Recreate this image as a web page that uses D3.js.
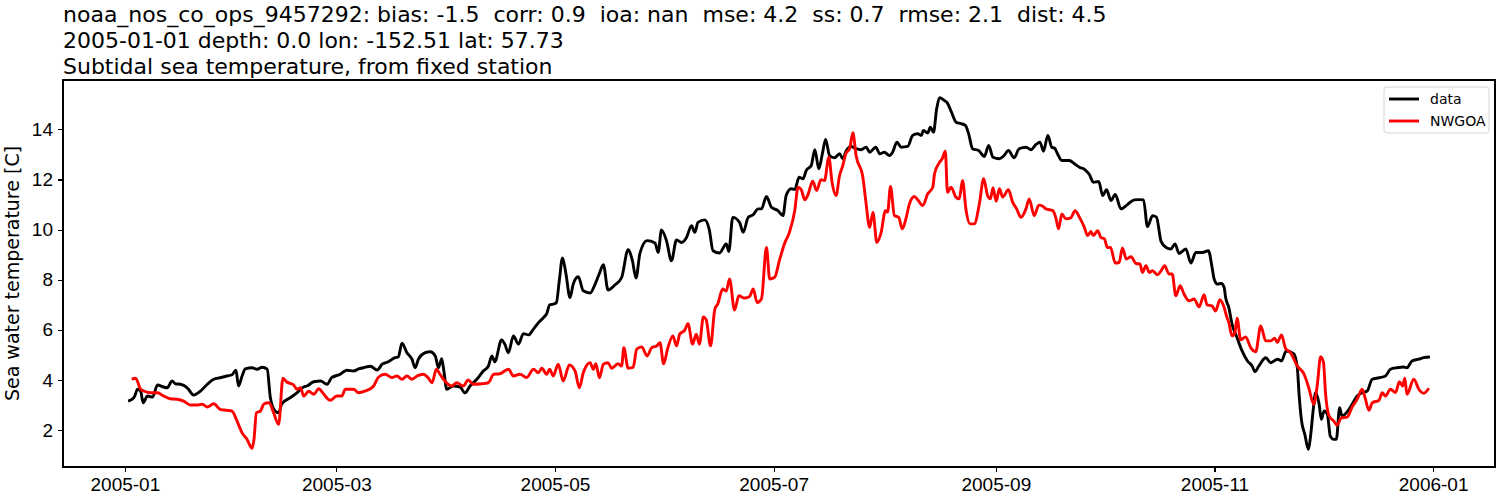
<!DOCTYPE html>
<meta charset="utf-8">
<style>
body { margin: 0; background: #fff; }
svg { font-family: "DejaVu Sans", sans-serif; }
.title { font-size: 22px; fill: #000; white-space: pre; }
.axis text { font-size: 19px; fill: #000; }
.axis path, .axis line { stroke: #000; stroke-width: 1.1px; shape-rendering: crispEdges; }
.line { fill: none; stroke-width: 2.9px; stroke-linejoin: round; }
.legend text { font-size: 14px; }
</style>
<body>
<script src="https://d3js.org/d3.v7.min.js"></script>
<script>
// observed (data) and model (NWGOA) sea temperature, day offsets from 2005-01-01
var obsDays = [0.9,2.5,3.6,4.4,5.1,6.3,7.7,9.1,10.8,11.8,13.2,14.1,15.5,17.4,19.2,21.1,23.0,24.8,26.6,28.5,29.9,31.0,31.7,32.7,33.6,35.5,36.9,38.3,39.7,40.6,41.9,42.9,43.8,46.1,48.0,49.9,50.8,52.7,54.6,56.4,57.7,60.1,61.9,63.8,65.2,66.6,68.5,70.4,71.8,73.5,75.4,76.3,77.3,78.7,80.1,81.0,81.9,83.8,85.2,86.6,87.5,88.4,89.0,89.8,91.6,93.5,94.9,96.3,98.2,100.0,101.4,102.4,103.2,105.1,106.0,107.0,108.4,109.8,111.2,112.6,114.0,115.4,116.8,117.7,118.5,119.5,120.4,121.2,122.1,123.0,124.2,125.1,126.5,127.9,129.8,131.2,132.4,133.5,134.8,136.7,138.6,140.4,141.6,142.6,143.7,145.7,147.9,148.8,149.7,151.1,152.5,153.9,155.3,156.7,158.1,159.0,159.9,161.8,163.0,164.1,165.9,167.8,168.5,169.6,171.5,172.5,173.9,175.3,176.7,177.6,179.0,180.4,182.2,183.6,184.5,185.9,186.9,188.1,189.2,190.1,191.5,192.5,193.6,194.6,195.5,196.6,198.0,199.4,200.3,201.2,202.6,204.0,205.4,206.8,207.8,209.5,210.6,211.9,213.3,214.2,215.4,216.6,218.4,219.8,221.2,222.2,222.8,224.0,224.7,225.6,226.5,227.3,228.6,229.5,230.5,231.9,233.3,234.5,235.4,236.5,238.2,239.8,241.0,242.2,244.0,245.3,246.5,248.1,249.5,251.4,252.8,254.2,255.3,256.3,257.5,258.6,259.4,260.2,261.4,263.5,264.9,266.3,267.9,269.1,270.2,271.7,272.8,273.9,275.1,276.3,277.9,279.7,281.6,283.0,284.2,285.3,286.7,287.8,289.1,290.5,291.8,293.0,294.1,296.0,297.4,298.8,300.6,302.3,303.4,303.9,304.8,305.9,306.7,307.1,308.0,308.9,310.3,311.7,313.2,314.5,315.3,316.4,318.3,319.7,321.6,322.7,324.0,326.1,327.1,327.6,328.3,329.2,330.2,330.8,331.6,332.2,333.2,333.8,334.6,335.5,336.3,337.3,338.0,338.9,339.6,341.0,342.4,343.8,345.2,346.6,348.0,349.9,351.7,353.1,354.9,356.8,357.7,359.1,361.0,362.4,364.1];
var obsTemp = [3.16,3.29,3.63,3.56,3.09,3.36,3.32,3.8,3.72,3.69,3.96,3.85,3.83,3.69,3.4,3.56,3.83,4.03,4.09,4.16,4.21,4.39,3.76,4.16,4.44,4.49,4.43,4.51,4.43,3.29,2.76,2.69,3.05,3.29,3.49,3.72,3.76,3.93,3.96,3.83,4.09,4.23,4.39,4.36,4.44,4.49,4.55,4.4,4.63,4.73,4.89,4.92,5.47,5.09,4.83,4.49,4.83,5.09,5.13,4.96,4.49,4.85,4.36,3.63,3.76,3.72,3.49,3.76,4.03,4.36,4.55,4.96,4.73,5.6,5.43,5.09,5.76,5.43,5.85,5.8,6.03,6.29,6.49,6.65,6.99,7.03,7.09,7.96,8.87,8.29,7.29,7.83,8.12,7.56,7.47,7.83,8.25,8.6,7.59,7.79,8.09,9.2,8.76,8.07,9.05,9.56,9.47,9.09,9.99,9.56,8.76,9.59,9.49,9.69,10.16,9.89,10.29,10.39,10.03,9.16,9.07,9.43,9.13,10.49,10.29,9.89,10.49,10.6,10.83,10.83,11.32,10.89,10.76,10.56,11.36,11.63,11.6,12.09,12.03,12.36,12.56,13.19,12.43,13.03,13.6,12.96,12.87,13.03,12.83,13.13,13.32,13.23,13.19,13.29,13.09,13.29,13.03,13.09,12.96,13.09,13.49,13.29,13.32,13.76,13.83,13.76,13.96,13.85,14.09,13.89,14.83,15.27,15.16,15.05,14.73,14.29,14.23,14.16,13.83,13.23,13.16,12.92,13.36,12.89,12.83,12.96,13.16,12.87,13.23,13.29,13.19,13.4,13.49,13.13,13.76,13.29,13.25,13.03,12.76,12.76,12.63,12.49,12.39,12.2,11.89,11.92,11.36,11.59,11.16,11.4,10.83,11.0,11.19,11.2,11.19,10.12,10.56,10.5,9.53,9.29,9.23,9.43,9.05,9.23,8.67,9.09,9.09,9.16,8.43,8.03,7.83,7.85,7.69,7.29,6.89,6.23,5.69,5.16,4.76,4.56,4.33,4.56,4.89,4.69,4.83,4.76,5.16,5.05,4.49,3.43,2.36,1.83,1.23,1.76,2.89,3.49,3.03,2.43,2.76,2.63,1.76,1.63,1.63,2.89,2.56,2.73,3.03,3.36,3.49,3.56,4.03,4.09,4.16,4.43,4.49,4.52,4.49,4.76,4.83,4.89,4.92];

var modelDays = [1.9,3.0,4.4,5.3,7.2,9.1,10.8,12.7,14.6,16.4,18.3,20.2,21.6,23.0,24.8,26.6,28.5,29.9,31.3,32.7,34.1,35.0,35.5,36.0,36.7,37.8,38.8,40.2,41.5,42.9,44.1,45.2,47.1,48.0,49.0,49.9,51.3,52.7,54.1,55.5,57.3,59.1,60.5,61.5,63.8,65.2,67.1,68.5,69.4,70.8,72.6,74.5,75.9,77.3,78.7,80.1,81.5,83.3,84.7,85.7,86.9,87.9,89.3,91.2,92.6,94.4,95.8,97.2,99.6,101.4,102.9,104.6,107.0,108.4,110.2,112.1,114.0,115.4,116.3,117.7,118.5,119.5,120.9,122.3,124.0,125.6,126.8,127.9,129.8,130.7,131.4,132.4,133.5,134.8,135.8,137.6,138.6,139.2,140.4,141.8,142.8,144.2,145.7,147.0,148.4,149.3,150.3,151.5,152.9,153.9,154.8,156.2,157.1,158.4,159.4,160.3,161.4,162.2,163.4,164.6,165.4,166.8,167.8,168.7,170.1,171.3,172.9,174.3,175.3,176.4,177.6,179.0,179.9,181.3,182.6,184.0,185.4,186.9,187.8,188.7,189.7,190.6,191.9,193.0,194.2,195.2,196.4,197.3,198.4,199.4,200.3,201.2,202.2,203.1,204.0,205.9,206.7,207.8,208.7,209.8,211.0,212.2,212.8,213.6,214.7,215.9,216.9,218.0,218.9,220.3,221.2,222.6,224.0,225.4,225.9,227.3,228.1,228.9,229.5,230.5,231.9,232.8,233.7,234.7,235.8,237.0,238.4,239.6,240.7,241.5,242.2,243.1,244.0,244.9,246.5,247.7,248.8,250.0,251.4,252.3,253.7,255.0,256.1,257.0,258.9,259.7,260.5,261.4,262.5,263.9,265.1,266.3,267.7,268.6,269.5,270.2,271.4,272.3,273.3,274.1,275.0,276.3,277.4,278.3,279.4,280.7,282.1,283.2,283.9,284.9,285.8,286.7,288.1,289.1,290.1,291.3,292.2,293.2,294.4,295.5,296.9,298.3,299.7,301.1,301.9,303.3,304.3,305.5,306.6,307.5,308.0,308.9,309.7,310.3,311.3,312.7,314.1,315.5,316.9,318.3,319.7,320.8,321.5,322.7,323.8,325.2,327.1,329.0,330.3,331.7,332.7,333.6,334.4,335.0,336.0,337.3,338.2,339.4,341.0,342.4,343.8,345.2,346.0,347.1,348.0,349.9,350.8,351.7,353.1,354.5,355.6,356.5,357.1,357.7,359.6,361.0,362.4,363.8];
var modelTemp = [4.03,4.07,3.63,3.56,3.49,3.49,3.36,3.25,3.23,3.16,3.0,3.0,3.03,2.92,3.05,2.83,2.79,2.76,2.36,1.89,1.63,1.36,1.27,1.6,2.69,2.76,3.04,3.09,2.69,2.23,4.07,3.92,3.8,3.63,3.69,3.36,3.55,3.43,3.65,3.43,3.19,3.36,3.36,3.63,3.63,3.49,3.56,3.65,3.76,4.12,4.23,4.1,4.16,4.03,4.16,4.03,4.16,4.23,4.07,3.89,4.43,4.23,3.96,3.76,3.89,3.76,4.0,3.83,3.85,3.89,4.23,4.25,4.43,4.16,4.23,4.1,4.43,4.29,4.47,4.23,4.43,4.16,4.63,3.96,4.6,4.36,3.69,4.29,4.69,4.43,4.65,4.09,4.63,4.69,4.47,4.65,4.56,5.29,4.47,4.5,5.23,5.32,4.96,5.29,5.36,5.49,4.65,5.29,5.76,5.36,5.83,5.99,6.25,5.43,5.83,5.43,6.52,6.4,5.36,6.83,7.03,7.63,7.55,8.03,6.79,7.36,7.27,7.33,7.63,7.09,7.23,9.29,8.03,8.1,8.76,9.43,9.89,10.76,11.69,11.6,11.19,11.4,11.93,11.56,11.99,11.96,12.89,11.89,11.36,12.16,12.56,13.05,13.23,13.87,12.96,12.09,11.16,10.09,10.69,9.49,9.89,10.76,10.7,11.72,10.56,10.49,10.03,10.49,11.03,11.32,11.19,10.96,11.43,11.69,12.23,12.69,12.85,13.13,11.49,11.69,11.29,11.23,11.96,10.76,10.23,10.23,11.03,12.03,11.36,11.23,11.67,11.13,11.63,11.3,11.59,11.09,10.83,10.49,10.83,11.23,10.56,10.98,10.93,10.83,10.76,10.49,10.03,10.63,10.43,10.47,10.76,10.5,10.09,9.76,9.93,9.76,9.96,9.69,9.63,9.29,9.29,8.67,8.69,9.27,8.83,8.92,8.65,8.63,8.29,8.56,8.29,8.36,8.2,8.36,8.56,8.23,8.23,7.36,7.76,7.43,7.16,7.23,6.92,7.4,7.0,6.96,6.75,7.2,6.93,6.49,6.29,5.76,5.9,6.47,5.6,5.72,5.29,5.13,6.16,5.56,5.56,5.67,5.5,5.8,5.27,5.09,4.56,4.23,3.69,3.03,3.83,4.93,4.7,3.43,2.56,2.36,2.2,2.49,2.52,2.92,3.23,3.63,3.3,2.79,3.09,3.19,3.49,3.36,3.63,3.5,3.93,3.76,4.07,3.43,4.03,3.63,3.47,3.67];

var yTicks = [2, 4, 6, 8, 10, 12, 14];
var xTickLabels = ["2005-01", "2005-03", "2005-05", "2005-07", "2005-09", "2005-11", "2006-01"];
var titleLines = [
  "noaa_nos_co_ops_9457292: bias: -1.5  corr: 0.9  ioa: nan  mse: 4.2  ss: 0.7  rmse: 2.1  dist: 4.5",
  "2005-01-01 depth: 0.0 lon: -152.51 lat: 57.73",
  "Subtidal sea temperature, from fixed station"
];
var seriesNames = ["data", "NWGOA"];
var seriesColors = ["#000000", "#ff0000"];

var t0 = Date.UTC(2005, 0, 1);
function toDate(d) { return new Date(t0 + d * 864e5); }

var series = [
  obsDays.map(function(d, i) { return {date: toDate(d), value: obsTemp[i]}; }),
  modelDays.map(function(d, i) { return {date: toDate(d), value: modelTemp[i]}; })
];

var svg = d3.select("body").append("svg")
    .attr("width", 1500)
    .attr("height", 500),
    margin = {top: 80, right: 5, bottom: 33, left: 63},
    width = 1500 - margin.left - margin.right,
    height = 500 - margin.top - margin.bottom;

var g = svg.append("g")
    .attr("transform", "translate(" + margin.left + "," + margin.top + ")");

// matplotlib style 5% margins around the data
var all = series[0].concat(series[1]);
var xe = d3.extent(all, function(d) { return +d.date; }),
    ye = d3.extent(all, function(d) { return d.value; });
var xp = (xe[1] - xe[0]) * 0.05, yp = (ye[1] - ye[0]) * 0.05;

var x = d3.scaleUtc().domain([new Date(xe[0] - xp), new Date(xe[1] + xp)]).range([0, width]);
var y = d3.scaleLinear().domain([ye[0] - yp, ye[1] + yp]).range([height, 0]);

var parseTick = d3.utcParse("%Y-%m");

g.append("g")
    .attr("class", "axis")
    .attr("transform", "translate(0," + height + ")")
    .call(d3.axisBottom(x)
      .tickValues(xTickLabels.map(parseTick))
      .tickFormat(d3.utcFormat("%Y-%m"))
      .tickSize(5).tickPadding(6).tickSizeOuter(0))
    .call(function(a) { a.select(".domain").remove(); });

g.append("g")
    .attr("class", "axis")
    .call(d3.axisLeft(y).tickValues(yTicks).tickSize(5).tickPadding(5).tickSizeOuter(0))
    .call(function(a) { a.select(".domain").remove(); });

g.append("text")
    .attr("class", "axis")
    .attr("transform", "translate(-44," + (height / 2) + ") rotate(-90)")
    .attr("text-anchor", "middle")
    .style("font-size", "19px")
    .text("Sea water temperature [C]");

var line = d3.line()
    .curve(d3.curveMonotoneX)
    .x(function(d) { return x(d.date); })
    .y(function(d) { return y(d.value); });

series.forEach(function(s, i) {
  g.append("path")
      .datum(s)
      .attr("class", "line")
      .attr("stroke", seriesColors[i])
      .attr("d", line);
});

// frame
g.append("rect")
    .attr("width", width)
    .attr("height", height)
    .attr("fill", "none")
    .attr("stroke", "#000")
    .attr("stroke-width", 1.1)
    .attr("shape-rendering", "crispEdges");

svg.selectAll(".title")
    .data(titleLines)
  .enter().append("text")
    .attr("class", "title")
    .attr("x", margin.left)
    .attr("y", function(d, i) { return 22 + i * 26; })
    .text(function(d) { return d; });

var legend = g.append("g")
    .attr("class", "legend")
    .attr("transform", "translate(" + (width - 111) + ",7)");

legend.append("rect")
    .attr("width", 105)
    .attr("height", 46)
    .attr("rx", 3)
    .attr("fill", "#fff")
    .attr("fill-opacity", 0.8)
    .attr("stroke", "#d6d6d6");

seriesNames.forEach(function(name, i) {
  legend.append("line")
      .attr("x1", 5).attr("x2", 35)
      .attr("y1", 12 + i * 22).attr("y2", 12 + i * 22)
      .attr("stroke", seriesColors[i])
      .attr("stroke-width", 2.9);
  legend.append("text")
      .attr("x", 46)
      .attr("y", 12 + i * 22)
      .attr("dy", "0.35em")
      .text(name);
});
</script>
</body>
